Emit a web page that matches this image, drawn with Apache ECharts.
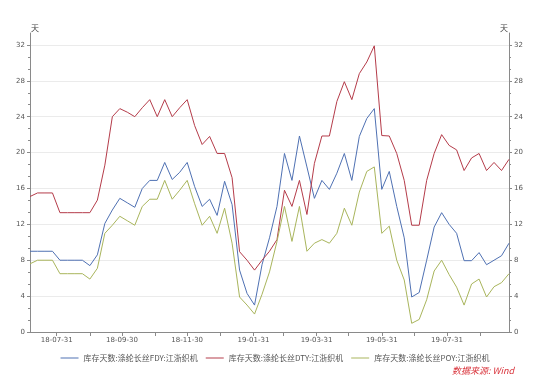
<!DOCTYPE html>
<html>
<head>
<meta charset="utf-8">
<script src="https://cdn.jsdelivr.net/npm/echarts@6/dist/echarts.min.js"></script>
<style>html,body{margin:0;padding:0;background:#fff}#c{width:550px;height:383px}</style>
</head>
<body>
<div id="c"></div>
<script>
var dates = [
'2018-07-06','2018-07-13','2018-07-20','2018-07-27','2018-08-03','2018-08-10','2018-08-17','2018-08-24','2018-08-31',
'2018-09-07','2018-09-14','2018-09-21','2018-09-28','2018-10-05','2018-10-12','2018-10-19','2018-10-26',
'2018-11-02','2018-11-09','2018-11-16','2018-11-23','2018-11-30','2018-12-07','2018-12-14','2018-12-21','2018-12-28',
'2019-01-04','2019-01-11','2019-01-18','2019-01-25','2019-02-01','2019-02-08','2019-02-15','2019-02-22',
'2019-03-01','2019-03-08','2019-03-15','2019-03-22','2019-03-29','2019-04-05','2019-04-12','2019-04-19','2019-04-26',
'2019-05-03','2019-05-10','2019-05-17','2019-05-24','2019-05-31','2019-06-07','2019-06-14','2019-06-21','2019-06-28',
'2019-07-05','2019-07-12','2019-07-19','2019-07-26','2019-08-02','2019-08-09','2019-08-16','2019-08-23','2019-08-30',
'2019-09-06','2019-09-13','2019-09-20','2019-09-27'];

var fdy = [9.0,9.0,9.0,9.0,8.0,8.0,8.0,8.0,7.4,8.6,12.1,13.6,14.9,14.4,13.9,16.0,16.9,
16.9,18.9,17.0,17.8,18.9,16.2,14.0,14.8,13.0,16.8,14.2,6.9,4.3,3.0,7.5,10.5,14.0,
19.9,16.9,21.85,18.4,14.9,16.9,15.9,17.7,19.9,16.9,21.8,23.8,24.9,15.9,17.9,14.0,10.5,
3.9,4.4,8.0,11.7,13.3,12.0,11.0,7.95,7.95,8.85,7.5,8.0,8.5,9.9];

var dty = [15.1,15.5,15.5,15.5,13.3,13.3,13.3,13.3,13.3,14.7,18.6,24.0,24.9,24.5,24.0,25.0,25.9,
24.0,25.9,24.0,25.0,25.9,23.0,20.9,21.8,19.9,19.9,17.2,8.95,8.0,6.9,8.0,9.0,10.3,
15.8,14.0,16.9,13.1,18.8,21.85,21.85,25.7,27.9,25.9,28.8,30.1,31.9,21.9,21.85,19.9,16.9,
11.9,11.9,16.9,19.9,22.0,20.8,20.3,18.0,19.4,19.9,18.0,18.9,18.0,19.25];

var poy = [7.6,8.0,8.0,8.0,6.5,6.5,6.5,6.5,5.9,7.1,11.0,11.9,12.9,12.4,11.9,14.0,14.8,
14.8,16.9,14.8,15.8,16.9,14.3,11.9,12.9,11.0,13.8,9.9,3.9,3.0,2.0,4.2,6.7,10.1,
14.0,10.1,14.0,9.0,9.9,10.3,9.9,11.0,13.8,11.9,15.6,17.9,18.4,11.0,11.8,8.0,5.8,
0.97,1.4,3.6,6.8,8.0,6.4,5.0,3.0,5.35,5.9,3.9,5.05,5.5,6.5];

var seriesNames = ['库存天数:涤纶长丝FDY:江浙织机','库存天数:涤纶长丝DTY:江浙织机','库存天数:涤纶长丝POY:江浙织机'];
var monthEnds = ['2018-07-31','2018-08-31','2018-09-30','2018-10-31','2018-11-30','2018-12-31','2019-01-31',
'2019-02-28','2019-03-31','2019-04-30','2019-05-31','2019-06-30','2019-07-31','2019-08-31'];
var xLabels = ['2018-07-31','2018-09-30','2018-11-30','2019-01-31','2019-03-31','2019-05-31','2019-07-31'];
var yTicks = [0,4,8,12,16,20,24,28,32];
var unitName = '天';
var sourceText = '数据来源: Wind';

function ts(s){var p=s.split('-');return Date.UTC(+p[0],+p[1]-1,+p[2]);}
function pairs(arr){return arr.map(function(v,i){return [ts(dates[i]),v];});}
function fmt(v){var d=new Date(v);var y=String(d.getUTCFullYear()).slice(2);var m=d.getUTCMonth()+1;var dd=d.getUTCDate();
 return y+'-'+(m<10?'0':'')+m+'-'+(dd<10?'0':'')+dd;}

var axisColor='#8a8a8a';
var font='"Noto Sans CJK SC", "DejaVu Sans", sans-serif';
function yAxis(pos){
  return {
    type:'value', position:pos, min:0, max:33.33, interval:4,
    axisLine:{show:true,lineStyle:{color:axisColor,width:1}},
    axisTick:{show:true,length:3,customValues:yTicks,lineStyle:{color:axisColor}},
    minorTick:{show:true,splitNumber:3,length:2,lineStyle:{color:axisColor}},
    minorSplitLine:{show:false},
    axisLabel:{customValues:yTicks,fontSize:7,color:'#555',margin:5,fontFamily:'DejaVu Sans'},
    splitLine:{show:pos==='left',lineStyle:{color:'#ebebeb',width:1}},
    name:unitName,nameLocation:'end',nameGap:1,
    nameTextStyle:{fontSize:8,color:'#444',fontFamily:font,align:pos==='left'?'left':'right',verticalAlign:'bottom',padding:[0,pos==='left'?0:1,0,pos==='left'?1:0]}
  };
}

var colors = ['#4f71b3','#b53c4a','#a9b55c'];
var chart = echarts.init(document.getElementById('c'),null,{renderer:'canvas'});
chart.setOption({
  animation:false,
  backgroundColor:'#fff',
  grid:{left:30,right:41,top:33,bottom:51,containLabel:false},
  title:{text:sourceText,right:31,top:361,textStyle:{fontSize:9,fontStyle:'italic',fontWeight:'normal',color:'#d9343c',fontFamily:font}},
  legend:{top:349,left:'center',itemWidth:18,itemHeight:1,itemGap:8,icon:'rect',
    textStyle:{fontSize:8,color:'#555',fontFamily:font},
    data:seriesNames.map(function(n,i){return {name:n,icon:'rect',itemStyle:{color:colors[i]}};})},
  xAxis:{type:'value',min:ts(dates[0]),max:ts(dates[dates.length-1]),
    axisLine:{show:true,onZero:false,lineStyle:{color:axisColor}},
    axisTick:{show:true,length:4,customValues:monthEnds.map(ts),lineStyle:{color:axisColor}},
    axisLabel:{customValues:xLabels.map(ts),formatter:function(v){return fmt(v);},fontSize:7,color:'#555',margin:5,fontFamily:'DejaVu Sans'},
    splitLine:{show:false}},
  yAxis:[yAxis('left'),yAxis('right')],
  series:[
    {name:seriesNames[0],type:'line',data:pairs(fdy),symbol:'none',lineStyle:{width:1,color:colors[0]},itemStyle:{color:colors[0]}},
    {name:seriesNames[1],type:'line',data:pairs(dty),symbol:'none',lineStyle:{width:1,color:colors[1]},itemStyle:{color:colors[1]}},
    {name:seriesNames[2],type:'line',data:pairs(poy),symbol:'none',lineStyle:{width:1,color:colors[2]},itemStyle:{color:colors[2]}}
  ]
});
</script>
</body>
</html>
